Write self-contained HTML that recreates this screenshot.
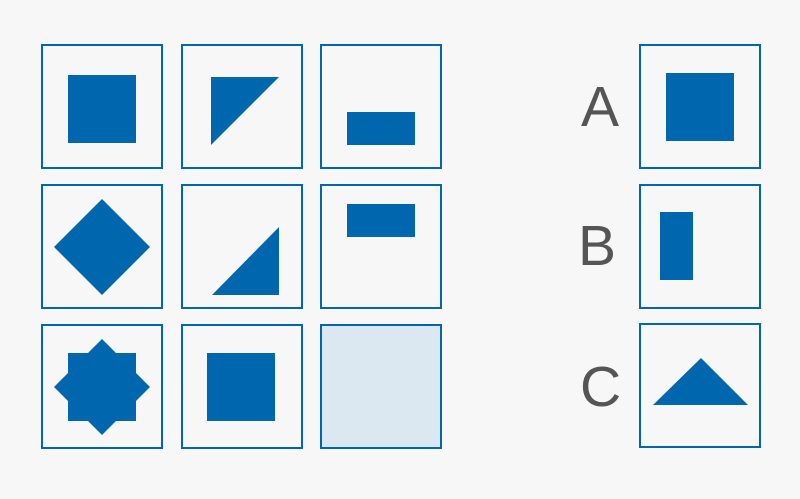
<!DOCTYPE html>
<html><head><style>html,body{margin:0;padding:0;background:#f7f7f7;}</style></head>
<body>
<svg width="800" height="494" viewBox="0 0 800 494" xmlns="http://www.w3.org/2000/svg">
<rect width="800" height="494" fill="#f7f7f7"/>
<g fill="none" stroke="#0066ad" stroke-width="2">
<rect x="42" y="45" width="120" height="123"/>
<rect x="182" y="45" width="120" height="123"/>
<rect x="321" y="45" width="120" height="123"/>
<rect x="42" y="185" width="120" height="123"/>
<rect x="182" y="185" width="120" height="123"/>
<rect x="321" y="185" width="120" height="123"/>
<rect x="42" y="325" width="120" height="123"/>
<rect x="182" y="325" width="120" height="123"/>
<rect x="321" y="325" width="120" height="123" fill="#dce8f1"/>
<rect x="640" y="45" width="120" height="123"/>
<rect x="640" y="185" width="120" height="123"/>
<rect x="640" y="324" width="120" height="123"/>
</g>
<g fill="#0066ad">
<rect x="68" y="75" width="68" height="68"/>
<polygon points="211,77 279,77 211,145"/>
<rect x="347" y="112" width="68" height="33"/>
<polygon points="102,199 150,247 102,295 54,247"/>
<polygon points="279,227 279,295 212,295"/>
<rect x="347" y="204" width="68" height="33"/>
<rect x="68" y="353" width="68" height="68"/>
<polygon points="102,339 150,387 102,435 54,387"/>
<rect x="207" y="353" width="68" height="68"/>
<rect x="666" y="73" width="68" height="68"/>
<rect x="660" y="212" width="33" height="68"/>
<polygon points="653,405 748,405 701,358"/>
</g>
<g fill="#555" font-family="Liberation Sans, sans-serif" font-size="57">
<text x="581" y="126">A</text>
<text x="578" y="265">B</text>
<text x="580" y="406">C</text>
</g>
</svg>
</body></html>
